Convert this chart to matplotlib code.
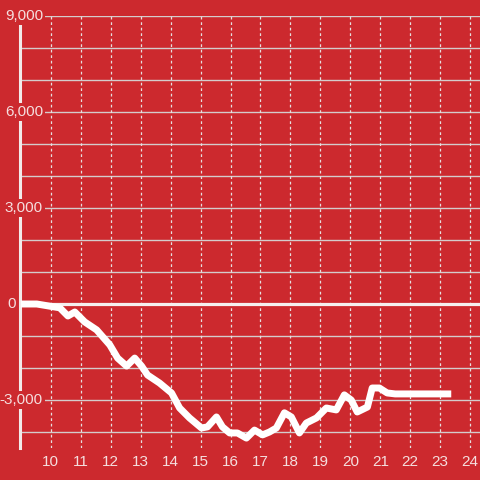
import matplotlib
matplotlib.use("Agg")
import matplotlib.pyplot as plt

# time of day (hours) and value
hours = [9.0, 9.53, 10.3, 10.57, 10.8, 11.13, 11.53, 11.97, 12.23, 12.53, 12.8,
         13.03, 13.23, 13.63, 14.03, 14.3, 14.63, 15.03, 15.23, 15.53, 15.73,
         15.97, 16.23, 16.53, 16.8, 17.07, 17.3, 17.53, 17.8, 18.03, 18.3,
         18.53, 18.87, 19.2, 19.53, 19.8, 20.03, 20.23, 20.57, 20.73, 20.97,
         21.23, 21.5, 23.37]
values = [0, 0, -120, -375, -250, -560, -810, -1280, -1690, -1940, -1690,
          -1940, -2220, -2470, -2780, -3250, -3560, -3875, -3840, -3530, -3840,
          -4030, -4030, -4190, -3940, -4090, -4000, -3875, -3400, -3530, -4030,
          -3720, -3560, -3250, -3310, -2840, -3000, -3375, -3220, -2625, -2625,
          -2780, -2810, -2810]

y_labels = [9000, 6000, 3000, 0, -3000]
x_ticks = list(range(10, 25))

bg = '#cc292e'
txt = '#f5dede'

plt.rcParams['font.family'] = ['Liberation Sans', 'DejaVu Sans']

fig = plt.figure(figsize=(4.8, 4.8), dpi=100, facecolor=bg)
ax = fig.add_axes([20/480, 32/480, 460/480, 432/480])
ax.set_facecolor(bg)
ax.set_xlim(8.97, 24.33)
ax.set_ylim(-4500, 9000)

for s in ['top', 'right', 'bottom']:
    ax.spines[s].set_visible(False)
ax.spines['left'].set_color('#f2eaea')
ax.spines['left'].set_linewidth(2.2)
ax.spines['left'].set_zorder(3)

# horizontal grid every 1000
for v in range(-4000, 9001, 1000):
    if v == 0:
        continue
    ax.axhline(v, color='#d4cccc', lw=1.0, zorder=1)
ax.axhline(0, color='#f5efef', lw=2.3, zorder=2)

# vertical dashed grid
for t in x_ticks:
    ax.axvline(t, color='#e6e0e0', lw=0.9, ls=(0, (2.2, 2.2)), zorder=1)

ax.plot(hours, values, color='white', lw=5, solid_joinstyle='round',
        solid_capstyle='butt', zorder=4)

ax.set_yticks([])
ax.set_xticks(x_ticks)
ax.set_xticklabels([str(t) for t in x_ticks], color=txt, fontsize=11)
ax.tick_params(axis='x', length=0, pad=5)

for v in y_labels:
    off = -3 if v == 0 else 16.5
    ax.annotate(f'{v:,}', xy=(0, v), xycoords=('axes fraction', 'data'),
                xytext=(off, 0), textcoords='offset points', ha='right',
                va='center', color=txt, fontsize=11, annotation_clip=False,
                zorder=5,
                bbox=dict(boxstyle='square,pad=0.15', fc=bg, ec='none'))

fig.savefig('out.png', dpi=100, facecolor=bg)
